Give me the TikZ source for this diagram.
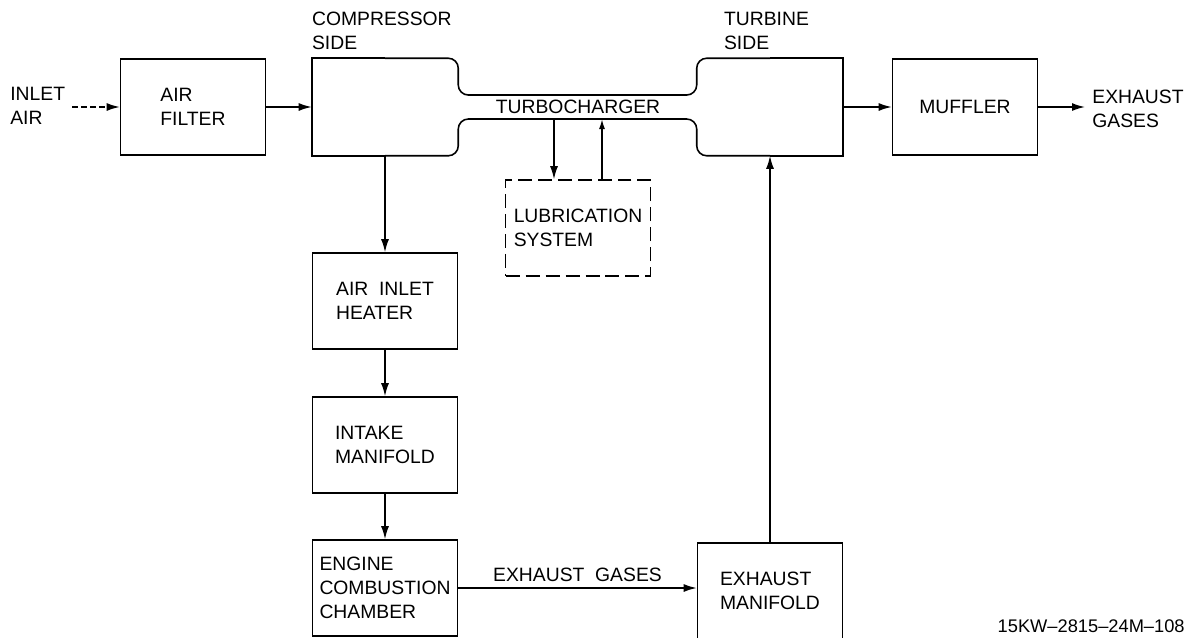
\documentclass[tikz,border=0pt]{standalone}
\usepackage{fontspec}
\setmainfont{Liberation Sans}
\usetikzlibrary{arrows.meta, positioning, calc}
\tikzset{
  blk/.style={draw, line width=0.9pt, minimum width=2.9cm, minimum height=1.92cm, inner sep=0pt, align=left},
  flow/.style={line width=0.9pt, -{Latex[length=2.6mm,width=1.6mm]}},
  lbl/.style={inner sep=0pt, align=left},
}

\begin{document}
\begin{tikzpicture}[x=0.02cm,y=-0.02cm,font=\fontsize{11}{13.7}\selectfont]
    \useasboundingbox (0,0) rectangle (1194,637);
    % top row
    \node[lbl,anchor=west] (inlet) at (10,106) {INLET\\AIR};
    \node[blk] (filter) at (193,107) {AIR\\FILTER};
    \node[blk,draw=none] (comp) at (385,107) {};
    \node[blk,draw=none] (turb) at (770,107) {};
    \node[blk] (muffler) at (965,107) {MUFFLER};
    \node[lbl,anchor=west] (exhout) at (1092,109) {EXHAUST\\GASES};
    \node[lbl,anchor=south west] (compl) at ([yshift=0.16cm]comp.north west) {COMPRESSOR\\SIDE};
    \node[lbl,anchor=south west] (turbl) at ([xshift=0.54cm,yshift=0.16cm]turb.north west) {TURBINE\\SIDE};
    % turbocharger outline
    \coordinate (shtop) at (578,95);
    \coordinate (shbot) at (578,119);
    \draw[line width=0.9pt,rounded corners=0.2cm] (comp.north) -- (comp.north east) -- (comp.east |- shtop) -- (turb.west |- shtop) -- (turb.north west) -- (turb.north);
    \draw[line width=0.9pt,rounded corners=0.2cm] (comp.south) -- (comp.south east) -- (comp.east |- shbot) -- (turb.west |- shbot) -- (turb.south west) -- (turb.south);
    \draw[line width=0.9pt] (comp.north) -- (comp.north west) -- (comp.south west) -- (comp.south);
    \draw[line width=0.9pt] (turb.north) -- (turb.north east) -- (turb.south east) -- (turb.south);
    \node[lbl] (turbo) at (578,107) {TURBOCHARGER};
    % lubrication
    \node[blk,dash pattern=on 0.28cm off 0.12cm] (lube) at (578,228) {LUBRICATION\\SYSTEM};
    \coordinate (oilout) at (554,119);
    \coordinate (oilin) at (602,119);
    % engine side
    \node[blk] (heater) at (385,301) {AIR\ \ INLET\\HEATER};
    \node[blk] (intake) at (385,445) {INTAKE\\MANIFOLD};
    \node[blk] (engine) at (385,588) {ENGINE\\COMBUSTION\\CHAMBER};
    \node[blk] (exman) at (770,591) {EXHAUST\\MANIFOLD};
    \node[lbl,anchor=south east,font=\fontsize{10.4}{12}\selectfont] (dwgno) at (1185,633) {15KW--2815--24M--108};
    % connectors
    \draw[flow,dash pattern=on 0.12cm off 0.06cm,shorten <=0.14cm] (inlet.east |- filter) -- (filter);
    \draw[flow] (filter) -- (comp);
    \draw[flow] (turb) -- (muffler);
    \draw[flow,shorten >=0.14cm] (muffler) -- (muffler -| exhout.west);
    \draw[flow] (oilout) -- (oilout |- lube.north);
    \draw[flow,-{Latex[length=2mm,width=1.2mm]}] (oilin |- lube.north) -- (oilin);
    \draw[flow] (comp) -- (heater);
    \draw[flow] (heater) -- (intake);
    \draw[flow] (intake) -- (engine);
    \draw[flow] (engine) -- node[lbl,above=0.12cm] (exlbl) {EXHAUST\ \ GASES} (engine -| exman.west);
    \draw[flow] (exman) -- (turb);
\end{tikzpicture}
\end{document}
